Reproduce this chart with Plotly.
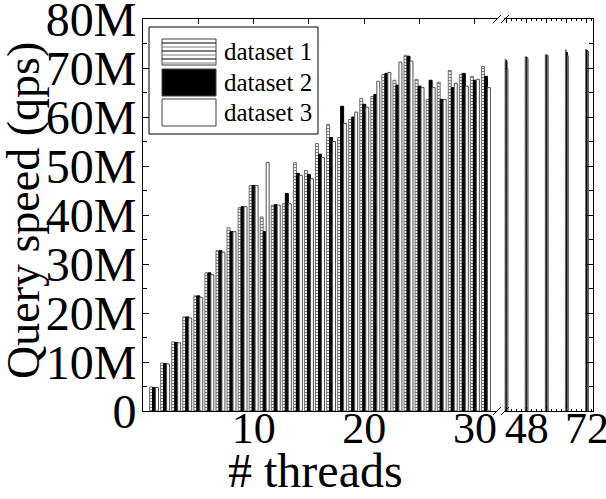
import plotly.graph_objects as go

# ---------------- data (values in millions of queries per second) ----------------
threads_left = list(range(1, 32))
ds1_left = [4.9, 9.8, 14.1, 19.2, 23.5, 28.2, 32.7, 37.4, 41.5, 46.0,
            39.6, 42.0, 42.3, 50.7, 49.1, 54.6, 58.5, 55.8, 59.5, 63.8,
            64.2, 68.7, 67.5, 72.6, 67.7, 63.6, 67.1, 69.5, 68.7, 68.3, 70.3]
ds2_left = [4.8, 9.7, 14.0, 19.2, 23.5, 28.2, 32.7, 36.6, 41.7, 46.0,
            36.6, 42.1, 44.4, 48.5, 48.3, 52.4, 55.8, 62.2, 60.0, 62.6,
            64.6, 68.9, 66.5, 72.4, 66.3, 67.5, 63.6, 66.0, 68.9, 67.5, 68.3]
ds3_left = [4.8, 9.6, 13.9, 19.0, 23.2, 27.8, 32.4, 36.6, 41.7, 46.0,
            50.7, 42.0, 42.3, 48.1, 47.4, 51.7, 55.0, 58.7, 61.0, 62.0,
            67.3, 69.1, 71.2, 71.4, 66.0, 66.0, 63.6, 66.9, 66.3, 67.7, 66.0]

threads_right = [40, 48, 56, 64, 72]
ds1_right = [71.8, 72.3, 72.8, 73.7, 73.8]
ds2_right = [71.5, 72.2, 72.6, 73.2, 73.6]
ds3_right = [69.8, 72.0, 72.6, 72.5, 73.4]

series_names = ["dataset 1", "dataset 2", "dataset 3"]
y_tickvals = [0, 10, 20, 30, 40, 50, 60, 70, 80]
y_ticktext = ["0", "10M", "20M", "30M", "40M", "50M", "60M", "70M", "80M"]
xl_tickvals = [5, 10, 15, 20, 25, 30]
xl_ticktext = ["", "10", "", "20", "", "30"]
xr_tickvals = [40, 48, 56, 64, 72]
xr_ticktext = ["", "48", "", "", "72"]

# ---------------- layout geometry ----------------
W, H = 606, 499
L, R, T, B = 143, 13, 19, 88
PW, PH = W - L - R, H - T - B
FONT = "Liberation Serif, Times New Roman, serif"


def px(xp):
    return (xp - L) / PW


def py(yp):
    return (T + PH - yp) / PH


left_end = px(497)
right_start = px(504)

styles = [
    dict(color="white", line=dict(color="#707070", width=1),
         pattern=dict(shape="-", fgcolor="black", bgcolor="white", size=3, solidity=0.4)),
    dict(color="black", line=dict(color="black", width=1)),
    dict(color="white", line=dict(color="#505050", width=1)),
]

fig = go.Figure()
left_data = [ds1_left, ds2_left, ds3_left]
right_data = [ds1_right, ds2_right, ds3_right]
wl, wr = 0.27, 0.38
for i in range(3):
    fig.add_trace(go.Bar(x=threads_left, y=left_data[i], name=series_names[i],
                         width=wl, offset=-1.5 * wl + i * wl,
                         marker=styles[i], xaxis="x", yaxis="y", showlegend=False))
    fig.add_trace(go.Bar(x=threads_right, y=right_data[i], name=series_names[i],
                         width=wr, offset=-1.5 * wr + i * wr,
                         marker=styles[i], xaxis="x2", yaxis="y2", showlegend=False))

axis_common = dict(showline=True, linecolor="black", linewidth=1, showgrid=False,
                   zeroline=False, ticks="inside", tickcolor="black",
                   ticklabeloverflow="allow")

fig.update_layout(
    width=W, height=H,
    margin=dict(l=L, r=R, t=T, b=B, autoexpand=False),
    paper_bgcolor="white", plot_bgcolor="white",
    barmode="overlay",
    font=dict(family=FONT, color="black"),
    xaxis=dict(domain=[0, left_end], range=[0, 32], anchor="y",
               tickvals=xl_tickvals, ticktext=xl_ticktext, ticklen=5,
               ticklabelstandoff=-22,
               mirror="ticks", tickfont=dict(size=44, family=FONT), **axis_common),
    xaxis2=dict(domain=[right_start, 1], range=[39.0, 74.4], anchor="y2",
                tickvals=xr_tickvals, ticktext=xr_ticktext, ticklen=4,
                ticklabelstandoff=-22,
                minor=dict(dtick=2, tick0=0, ticks="inside", ticklen=2, tickcolor="black"),
                mirror="ticks", tickfont=dict(size=44, family=FONT), **axis_common),
    yaxis=dict(domain=[0, 1], range=[0, 80], anchor="x",
               tickvals=y_tickvals, ticktext=y_ticktext, ticklen=6,
               ticklabelstandoff=-4,
               minor=dict(dtick=5, tick0=0, ticks="inside", ticklen=4, tickcolor="black"),
               tickfont=dict(size=48, family=FONT), **axis_common),
    yaxis2=dict(domain=[0, 1], range=[0, 80], anchor="x2", side="right",
                tickvals=y_tickvals, showticklabels=False, ticklen=6,
                minor=dict(dtick=5, tick0=0, ticks="inside", ticklen=4, tickcolor="black"),
                **axis_common),
)

shapes = []
# axis break marks (top and bottom)
for yb in (19, 411):
    for x0 in (493, 501):
        shapes.append(dict(type="line", xref="paper", yref="paper",
                           x0=px(x0), x1=px(x0 + 8), y0=py(yb + 4), y1=py(yb - 4),
                           line=dict(color="black", width=1)))
# custom legend box
shapes.append(dict(type="rect", xref="paper", yref="paper",
                   x0=px(149), x1=px(318), y0=py(134), y1=py(27),
                   line=dict(color="black", width=1), fillcolor="white"))
sw_rows = [(39, 65), (69, 96), (99, 126)]
fills = ["white", "black", "white"]
for (ya, yb), fc in zip(sw_rows, fills):
    shapes.append(dict(type="rect", xref="paper", yref="paper",
                       x0=px(162), x1=px(216), y0=py(yb), y1=py(ya),
                       line=dict(color="#404040", width=1), fillcolor=fc))
k = 0
for yl in range(43, 64, 4):
    shapes.append(dict(type="line", xref="paper", yref="paper",
                       x0=px(162), x1=px(216), y0=py(yl), y1=py(yl),
                       line=dict(color="black" if k % 2 == 0 else "#808080", width=1)))
    k += 1
fig.update_layout(shapes=shapes)

annotations = []
for (ya, yb), name in zip(sw_rows, series_names):
    annotations.append(dict(xref="paper", yref="paper", x=px(222), y=py((ya + yb) / 2),
                            xanchor="left", yanchor="middle", showarrow=False,
                            text=name, font=dict(size=25, family=FONT)))
annotations.append(dict(xref="paper", yref="paper", x=px(315), y=py(470),
                        xanchor="center", yanchor="middle", showarrow=False,
                        text="# threads", font=dict(size=48, family=FONT)))
annotations.append(dict(xref="paper", yref="paper", x=px(23), y=py(211),
                        xanchor="center", yanchor="middle", showarrow=False, textangle=-90,
                        text="Query speed (qps)", font=dict(size=46, family=FONT)))
fig.update_layout(annotations=annotations)

fig.write_html("out.html")
